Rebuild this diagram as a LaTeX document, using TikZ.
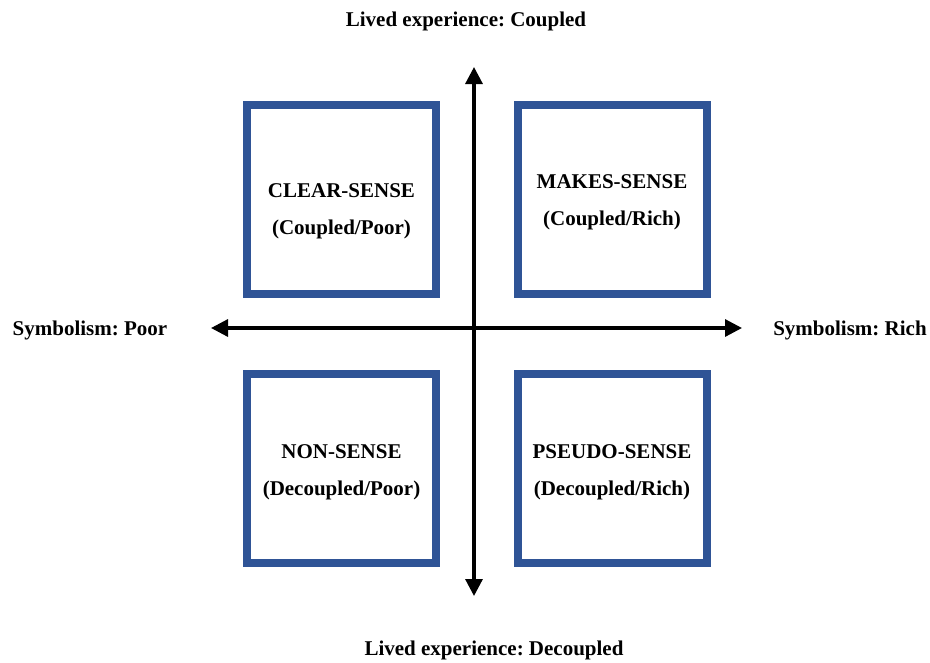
\documentclass[tikz,border=0pt]{standalone}
\usepackage{fontspec}
\setmainfont{Liberation Serif}
\usepackage{xcolor}
\usepackage{tikz}
\usetikzlibrary{positioning, arrows.meta}
\definecolor{quadblue}{HTML}{2F5496}
\frenchspacing

\begin{document}
\begin{tikzpicture}[x=1pt, y=-1pt,
    quadbox/.style={draw=quadblue, line width=8pt, minimum width=189pt, minimum height=189pt, inner sep=0pt},
    quadtext/.style={align=center, inner sep=0pt, font=\fontsize{21}{37}\selectfont\bfseries},
    axislabel/.style={font=\fontsize{21}{25}\selectfont\bfseries, inner sep=0pt},
    axis/.style={line width=3.2pt, {Triangle[length=17pt,width=17pt]}-{Triangle[length=17pt,width=17pt]}}]
    \useasboundingbox (0,0) rectangle (930,662);
    % axes
    \coordinate (top) at (474,67);
    \coordinate (bottom) at (474,596);
    \coordinate (west) at (211,328);
    \coordinate (east) at (742,328);
    \draw[axis] (bottom) -- (top);
    \draw[axis] (west) -- (east);
    % axis labels
    \node[axislabel] (coupled) at (466,21) {Lived experience: Coupled};
    \node[axislabel] (decoupled) at (494,650) {Lived experience: Decoupled};
    \node[axislabel] (poor) at (90,330) {Symbolism: Poor};
    \node[axislabel] (rich) at (850,330) {Symbolism: Rich};
    % quadrants
    \node[quadbox] (clear) at (341.5,199.5) {};
    \node[quadbox] (makes) at (612,199.5) {};
    \node[quadbox] (non) at (341.5,468) {};
    \node[quadbox] (pseudo) at (612,468) {};
    \node[quadtext, yshift=-12pt] (cleartext) at (clear) {CLEAR-SENSE\\(Coupled/Poor)};
    \node[quadtext, yshift=-3pt] (makestext) at (makes) {MAKES-SENSE\\(Coupled/Rich)};
    \node[quadtext, yshift=-4pt] (nontext) at (non) {NON-SENSE\\(Decoupled/Poor)};
    \node[quadtext, yshift=-4pt] (pseudotext) at (pseudo) {PSEUDO-SENSE\\(Decoupled/Rich)};
\end{tikzpicture}
\end{document}
